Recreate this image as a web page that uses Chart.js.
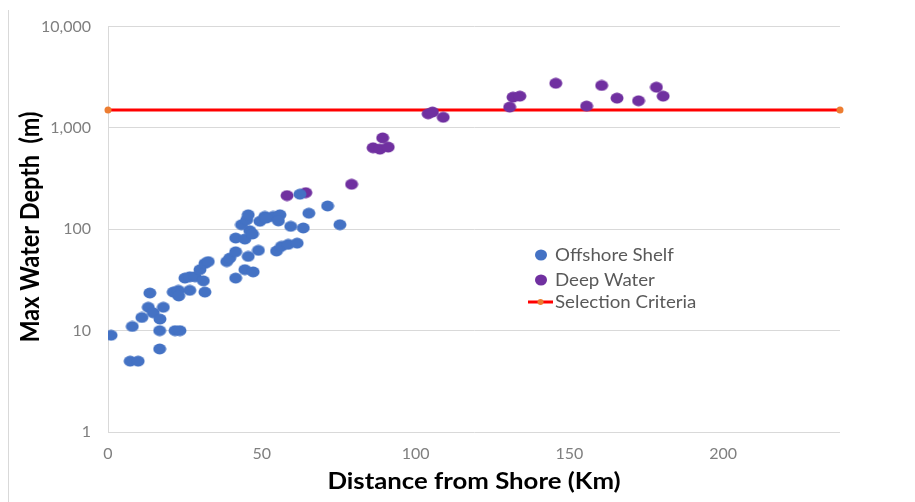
<!DOCTYPE html>
<html>
<head>
<meta charset="utf-8">
<script src="https://cdn.jsdelivr.net/npm/chart.js@4.4.1/dist/chart.umd.min.js"></script>
<style>
  html, body { margin: 0; padding: 0; background: #ffffff; }
  #wrap { width: 915px; height: 502px; position: relative; }
</style>
</head>
<body>
<div id="wrap"><canvas id="chart" width="915" height="502"></canvas></div>
<script>
// Offshore shelf fields: distance from shore (km) and max water depth (m)
const shelfDistance = [1, 7.2, 9.8, 7.9, 11, 13.1, 14.7, 16.9, 16.8, 16.8, 18, 13.6, 21.8, 23.4, 21.2, 22.9, 23,
  26.6, 31.5, 25, 26.6, 28.3, 31, 29.9, 31.5, 32.6, 38.6, 39.6, 41.5, 41.5, 44.5, 47.2, 45.6, 48.9, 41.5, 44.5,
  46.1, 47, 43.4, 45.1, 45.6, 49.4, 51, 53.7, 55.9, 51.5, 55.4, 54.8, 56.4, 58.6, 61.5, 59.4, 63.5, 62.4, 65.3,
  71.4, 75.4];
const shelfDepth = [9, 5, 5, 11, 13.5, 17, 15, 13, 10, 6.6, 17, 23.5, 10, 10, 24, 25, 22,
  25, 24, 33, 34, 34, 31, 40, 46, 48, 48, 52, 60, 33, 40, 38, 54, 62, 82, 80,
  97, 90, 111, 124, 139, 120, 134, 134, 139, 129, 121, 61, 68, 71, 73, 107, 103, 222, 144,
  170, 111];

// Deep water fields
const deepDistance = [58.2, 64.3, 79.2, 86.2, 88.4, 91.1, 89.3, 104.1, 105.5, 109, 130.6, 131.7, 133.9,
  145.6, 155.6, 160.5, 165.5, 172.5, 178.3, 180.5];
const deepDepth = [215, 230, 278, 637, 618, 647, 798, 1380, 1435, 1274, 1607, 2014, 2060,
  2760, 1644, 2624, 1967, 1853, 2523, 2060];

// Selection criteria threshold line
const criteriaDistance = [0, 238];
const criteriaDepth = [1500, 1500];

// Axis ticks
const depthTicks = [1, 10, 100, 1000, 10000];
const distanceTicks = [0, 50, 100, 150, 200];

const seriesNames = ['Offshore Shelf', 'Deep Water', 'Selection Criteria'];

const toPoints = (xs, ys) => xs.map((x, i) => ({ x: x, y: ys[i] }));

// Slightly wide elliptical marker
function ellipseMarker(color) {
  const c = document.createElement('canvas');
  c.width = 14; c.height = 12;
  const g = c.getContext('2d');
  g.fillStyle = color;
  g.beginPath();
  g.ellipse(7, 6, 6.5, 5.4, 0, 0, Math.PI * 2);
  g.fill();
  return c;
}

const BLUE = '#4472C4';
const PURPLE = '#7030A0';
const RED = '#FF0000';
const ORANGE = '#ED7D31';
const GRID = '#D9D9D9';
const TICK = '#7F7F7F';
const LABEL = '#595959';
const FONT = 'Lato, "Open Sans", "DejaVu Sans", sans-serif';

const blueMarker = ellipseMarker(BLUE);
const purpleMarker = ellipseMarker(PURPLE);

// Text drawn slightly widened along its baseline
function wideText(ctx, text, x, y, sx) {
  ctx.save();
  ctx.translate(x, y);
  ctx.scale(sx, 1);
  ctx.fillText(text, 0, 0);
  ctx.restore();
}

const chromePlugin = {
  id: 'chrome',
  beforeDraw(chart) {
    const ctx = chart.ctx;
    ctx.save();
    ctx.fillStyle = '#ffffff';
    ctx.fillRect(0, 0, chart.width, chart.height);
    ctx.strokeStyle = GRID;
    ctx.lineWidth = 1;
    ctx.beginPath();
    ctx.moveTo(8.5, 10);
    ctx.lineTo(8.5, chart.height);
    ctx.stroke();
    ctx.restore();
  },
  afterDraw(chart) {
    const ctx = chart.ctx;
    ctx.save();
    // Axis titles
    ctx.fillStyle = '#000000';
    ctx.font = 'bold 23px ' + FONT;
    ctx.textAlign = 'center';
    ctx.textBaseline = 'middle';
    wideText(ctx, 'Distance from Shore (Km)', 474, 482, 1.12);
    ctx.save();
    ctx.translate(31, 227);
    ctx.rotate(-Math.PI / 2);
    ctx.scale(1.02, 1.12);
    ctx.fillText('Max Water Depth  (m)', 0, 0);
    ctx.restore();

    // Legend
    const ds = chart.data.datasets;
    const rows = [255, 280, 302];
    ctx.font = '17px ' + FONT;
    ctx.textAlign = 'left';
    ctx.textBaseline = 'middle';
    ds.forEach((d, i) => {
      const y = rows[i];
      if (d.type === 'line') {
        ctx.strokeStyle = d.borderColor;
        ctx.lineWidth = 3;
        ctx.beginPath();
        ctx.moveTo(528, y);
        ctx.lineTo(553, y);
        ctx.stroke();
        ctx.fillStyle = d.pointBackgroundColor;
        ctx.beginPath();
        ctx.arc(540.5, y, 3, 0, Math.PI * 2);
        ctx.fill();
      } else {
        ctx.fillStyle = d.backgroundColor;
        ctx.beginPath();
        ctx.ellipse(541, y, 6, 5.5, 0, 0, Math.PI * 2);
        ctx.fill();
      }
      ctx.fillStyle = LABEL;
      wideText(ctx, d.label, 555, y + 1, 1.1);
    });
    ctx.restore();
  }
};

new Chart(document.getElementById('chart'), {
  type: 'scatter',
  data: {
    datasets: [
      {
        label: seriesNames[0],
        data: toPoints(shelfDistance, shelfDepth),
        backgroundColor: BLUE,
        pointStyle: blueMarker,
        pointRadius: 6
      },
      {
        label: seriesNames[1],
        data: toPoints(deepDistance, deepDepth),
        backgroundColor: PURPLE,
        pointStyle: purpleMarker,
        pointRadius: 6
      },
      {
        type: 'line',
        label: seriesNames[2],
        data: toPoints(criteriaDistance, criteriaDepth),
        borderColor: RED,
        borderWidth: 3,
        pointRadius: 3.5,
        pointBackgroundColor: ORANGE,
        pointBorderWidth: 0,
        showLine: true,
        fill: false,
        clip: false
      }
    ]
  },
  options: {
    responsive: false,
    devicePixelRatio: 1,
    animation: false,
    layout: { padding: { top: 24, right: 75, bottom: 0, left: 0 } },
    plugins: {
      legend: { display: false },
      tooltip: { enabled: false }
    },
    scales: {
      x: {
        type: 'linear',
        min: 0,
        max: 238,
        afterBuildTicks(scale) {
          scale.ticks = distanceTicks.map(v => ({ value: v }));
        },
        afterFit(scale) { scale.height = 70; },
        grid: { display: false, drawTicks: false },
        border: { display: false },
        ticks: {
          color: TICK,
          font: { family: FONT, size: 16 },
          padding: 12,
          maxRotation: 0
        }
      },
      y: {
        type: 'logarithmic',
        min: 1,
        max: 10000,
        afterBuildTicks(scale) {
          scale.ticks = depthTicks.map(v => ({ value: v }));
        },
        afterFit(scale) { scale.width = 108; },
        grid: { color: GRID, lineWidth: 1, drawTicks: false },
        border: { display: true, color: GRID, width: 1 },
        ticks: {
          color: TICK,
          font: { family: FONT, size: 16 },
          padding: 17,
          callback: v => v.toLocaleString('en-US')
        }
      }
    }
  },
  plugins: [chromePlugin]
});
</script>
</body>
</html>
